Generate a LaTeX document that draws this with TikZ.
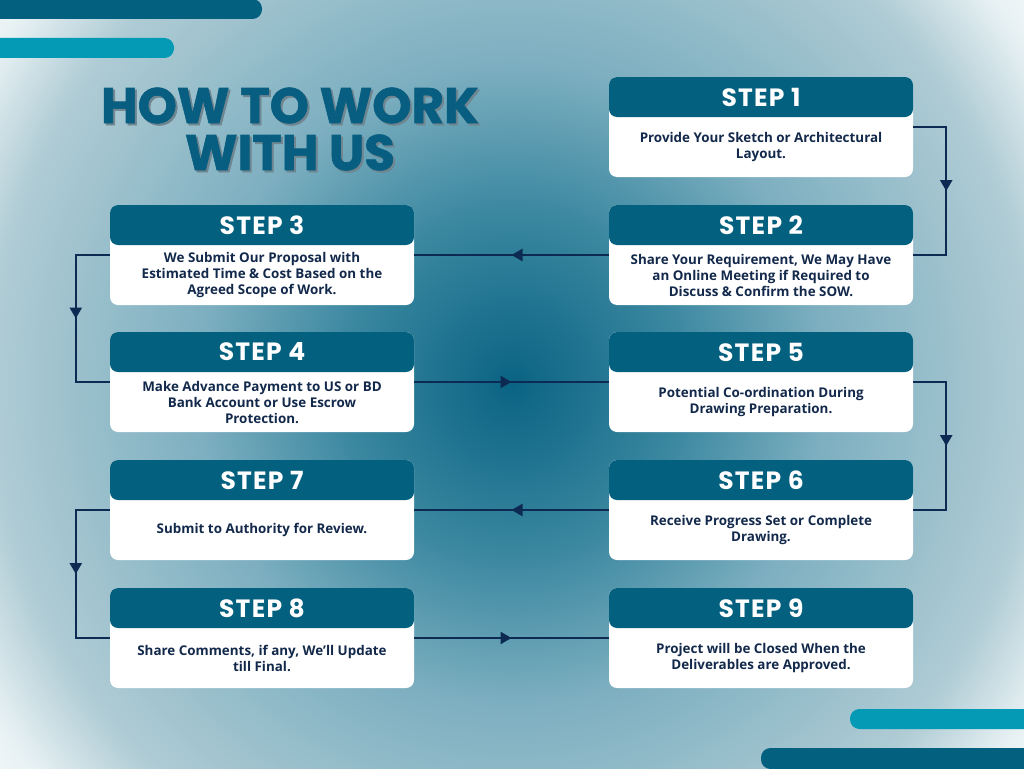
\documentclass[tikz,border=0pt]{standalone}
\usepackage{fontspec}
\setmainfont{Open Sans}
\newfontfamily\headfont{Poppins}[LetterSpace=5]
\newfontfamily\titlefont{Poppins}[BoldFeatures={FakeBold=1.2}]
\usetikzlibrary{arrows.meta, decorations.markings}

\definecolor{headblue}{HTML}{04607F}
\definecolor{barcyan}{HTML}{0499B5}
\definecolor{navy}{HTML}{0C2A52}
\definecolor{inktext}{HTML}{13294B}
\definecolor{titleblue}{HTML}{075E80}
\definecolor{shadowgray}{HTML}{6F8590}
\definecolor{bgcore}{HTML}{0A6383}
\definecolor{bgone}{HTML}{3A87A0}
\definecolor{bgtwo}{HTML}{7DAFC0}
\definecolor{bgthree}{HTML}{B0CCD5}
\definecolor{bgfour}{HTML}{E6F0F3}
\pgfdeclareradialshading{bgglow}{\pgfpoint{0bp}{0bp}}{color(0bp)=(bgcore); color(8bp)=(bgone); color(15bp)=(bgtwo); color(25bp)=(bgthree); color(29bp)=(bgfour); color(33bp)=(white); color(50bp)=(white)}

\begin{document}
\begin{tikzpicture}[x=1pt, y=-1pt,
    card/.style={fill=white, rounded corners=8pt, minimum width=304pt, minimum height=100pt, inner sep=0pt},
    head/.style={fill=headblue, text=white, rounded corners=8pt, minimum width=304pt, minimum height=40pt, inner sep=0pt, font=\headfont\bfseries\fontsize{25}{25}\selectfont},
    txt/.style={text=inktext, align=center, inner sep=0pt, font=\bfseries\fontsize{13.4}{16}\selectfont},
    title/.style={align=center, inner sep=0pt, font=\titlefont\bfseries\fontsize{50}{47}\selectfont},
    conn/.style={navy, line width=2.5pt},
    midarrow/.style={postaction={decorate}, decoration={markings, mark=at position 0.5 with {\arrow{Triangle[length=11pt,width=12pt]}}}}]
    \useasboundingbox (0,0) rectangle (1024,768);

    % 背景
    \begin{scope}
        \clip (0,0) rectangle (1024,768);
        \shade[shading=bgglow] (-10,-150) rectangle (1034,918);
    \end{scope}

    % 装饰条
    \fill[headblue, rounded corners=9.5pt] (-20,-1) rectangle (262,19);
    \fill[barcyan, rounded corners=9.5pt] (-20,38) rectangle (174,58);
    \fill[barcyan, rounded corners=9.5pt] (850,709) rectangle (1044,729);
    \fill[headblue, rounded corners=9.5pt] (761,748) rectangle (1044,769);

    % 标题
    \node[title, text=shadowgray] (ttlshadow) at (292,131) {HOW TO WORK\\WITH US};
    \node[title, text=titleblue] (ttl) at (290,129) {HOW TO WORK\\WITH US};

    % 右列卡片
    \node[card] (c1) at (761,127) {};
    \node[head, anchor=north] (h1) at (c1.north) {STEP 1};
    \node[txt] (t1) at ([yshift=-20pt]c1.center) {Provide Your Sketch or Architectural\\Layout.};

    \node[card] (c2) at (761,255) {};
    \node[head, anchor=north] (h2) at (c2.north) {STEP 2};
    \node[txt] (t2) at ([yshift=-20pt]c2.center) {Share Your Requirement, We May Have\\an Online Meeting if Required to\\Discuss \& Confirm the SOW.};

    \node[card] (c5) at (761,382) {};
    \node[head, anchor=north] (h5) at (c5.north) {STEP 5};
    \node[txt] (t5) at ([yshift=-20pt]c5.center) {Potential Co-ordination During\\Drawing Preparation.};

    \node[card] (c6) at (761,510) {};
    \node[head, anchor=north] (h6) at (c6.north) {STEP 6};
    \node[txt] (t6) at ([yshift=-20pt]c6.center) {Receive Progress Set or Complete\\Drawing.};

    \node[card] (c9) at (761,638) {};
    \node[head, anchor=north] (h9) at (c9.north) {STEP 9};
    \node[txt] (t9) at ([yshift=-20pt]c9.center) {Project will be Closed When the\\Deliverables are Approved.};

    % 左列卡片
    \node[card] (c3) at (262,255) {};
    \node[head, anchor=north] (h3) at (c3.north) {STEP 3};
    \node[txt] (t3) at ([yshift=-20pt]c3.center) {We Submit Our Proposal with\\Estimated Time \& Cost Based on the\\Agreed Scope of Work.};

    \node[card] (c4) at (262,382) {};
    \node[head, anchor=north] (h4) at (c4.north) {STEP 4};
    \node[txt] (t4) at ([yshift=-20pt]c4.center) {Make Advance Payment to US or BD\\Bank Account or Use Escrow\\Protection.};

    \node[card] (c7) at (262,510) {};
    \node[head, anchor=north] (h7) at (c7.north) {STEP 7};
    \node[txt] (t7) at ([yshift=-20pt]c7.center) {Submit to Authority for Review.};

    \node[card] (c8) at (262,638) {};
    \node[head, anchor=north] (h8) at (c8.north) {STEP 8};
    \node[txt] (t8) at ([yshift=-20pt]c8.center) {Share Comments, if any, We'll Update\\till Final.};

    % 连接线
    \draw[conn, midarrow] (c1.east) -- ++(33,0) |- (c2.east);
    \draw[conn, midarrow] (c2.west) -- (c3.east);
    \draw[conn, midarrow] (c3.west) -- ++(-34,0) |- (c4.west);
    \draw[conn, midarrow] (c4.east) -- (c5.west);
    \draw[conn, midarrow] (c5.east) -- ++(33,0) |- (c6.east);
    \draw[conn, midarrow] (c6.west) -- (c7.east);
    \draw[conn, midarrow] (c7.west) -- ++(-34,0) |- (c8.west);
    \draw[conn, midarrow] (c8.east) -- (c9.west);
\end{tikzpicture}
\end{document}
